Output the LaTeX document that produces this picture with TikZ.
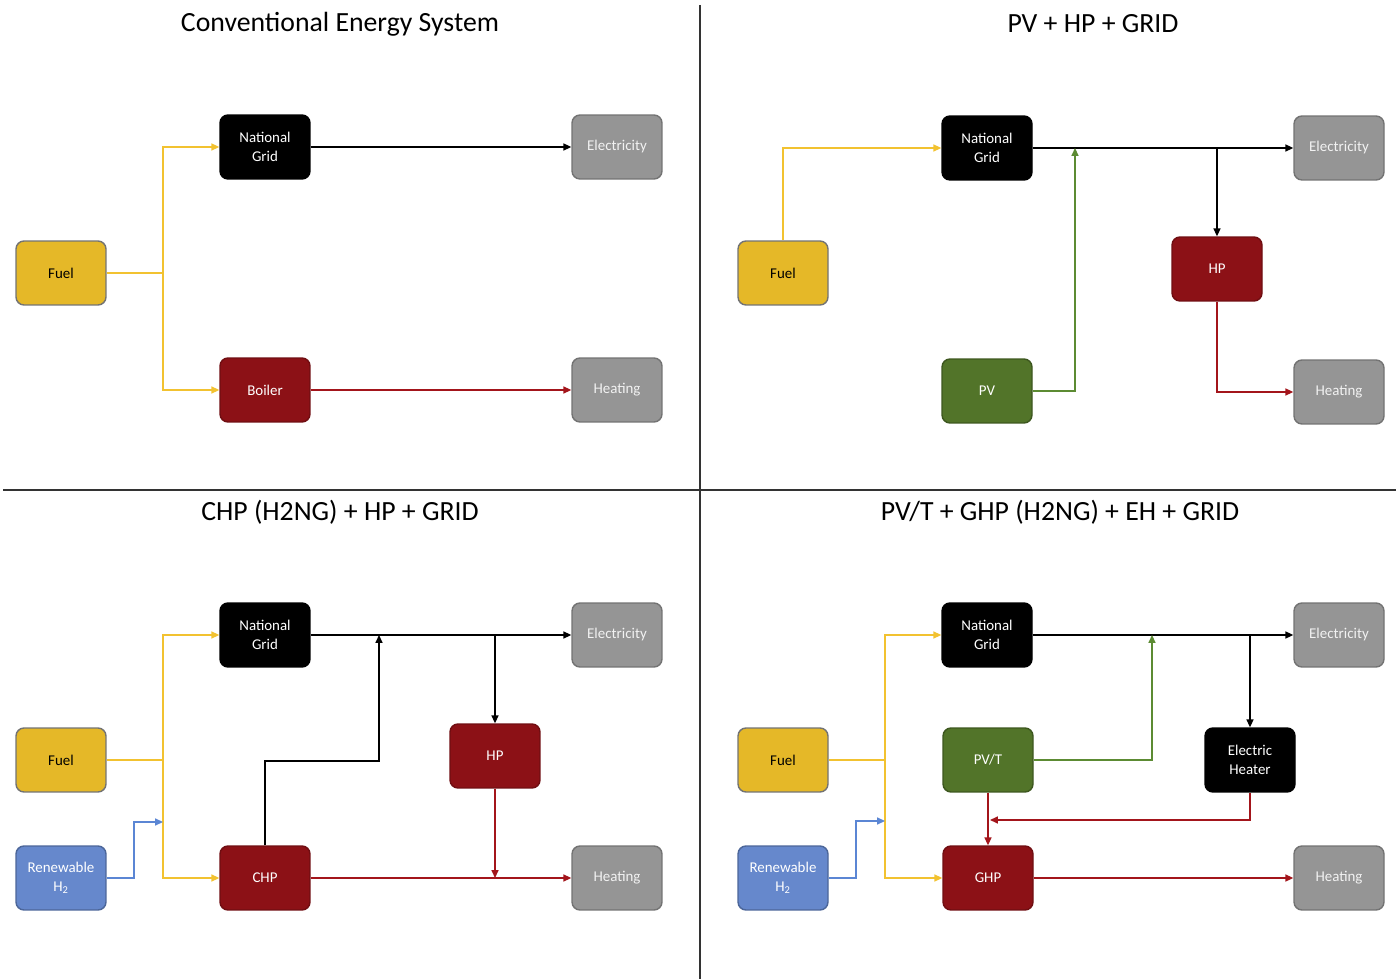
\documentclass[tikz,border=0pt]{standalone}
\usepackage{fontspec}
\setmainfont{Carlito}
\usepackage{xcolor}
\usetikzlibrary{arrows.meta}
\definecolor{fuelgold}{HTML}{E5B828}
\definecolor{fuelline}{HTML}{F2C230}
\definecolor{heatred}{HTML}{8C1116}
\definecolor{heatline}{HTML}{A3151B}
\definecolor{pvgreen}{HTML}{527429}
\definecolor{pvline}{HTML}{5C8B33}
\definecolor{hblue}{HTML}{6688CC}
\definecolor{hline}{HTML}{5B86D4}
\definecolor{outgrey}{HTML}{959595}

\begin{document}
\begin{tikzpicture}[line cap=butt,line join=miter,x=0.02cm,y=-0.02cm,
    unit/.style={rectangle,rounded corners=0.16cm,minimum width=1.8cm,minimum height=1.28cm,
        align=center,line width=0.8pt,font=\fontsize{8.5}{10.5}\selectfont},
    fuelbox/.style={unit,fill=fuelgold,draw=black!55,text=black},
    gridbox/.style={unit,fill=black,draw=black,text=white},
    heatbox/.style={unit,fill=heatred,draw=heatred!80!black,text=white},
    pvbox/.style={unit,fill=pvgreen,draw=pvgreen!75!black,text=white},
    hbox/.style={unit,fill=hblue,draw=hblue!75!black,text=white},
    outbox/.style={unit,fill=outgrey,draw=black!55,text=black!5},
    flow/.style={line width=0.8pt,-{Triangle[length=4.5pt,width=4pt]}},
    plain/.style={line width=0.8pt},
    title/.style={font=\fontsize{15.8}{19}\selectfont},
    divider/.style={line width=1pt,draw=black!80}]
    \useasboundingbox (0,0) rectangle (1400,979);
    % dividers
    \draw [divider] (700,5) -- (700,979);
    \draw [divider] (3,490) -- (1396,490);
    % titles
    \node [title] (t1) at (340,24) {Conventional Energy System};
    \node [title] (t2) at (1093,24) {PV + HP + GRID};
    \node [title] (t3) at (340,512) {CHP (H2NG) + HP + GRID};
    \node [title] (t4) at (1060,512) {PV/T + GHP (H2NG) + EH + GRID};

    % conventional
    \node [fuelbox] (fuel1) at (61,273) {Fuel};
    \node [gridbox] (grid1) at (265,147) {National\\Grid};
    \node [heatbox] (boil1) at (265,390) {Boiler};
    \node [outbox] (elec1) at (617,147) {Electricity};
    \node [outbox] (heat1) at (617,390) {Heating};
    \coordinate (j1) at (163,273);
    \draw [plain,fuelline] (fuel1) -- (j1);
    \draw [flow,fuelline] (j1) |- (grid1);
    \draw [flow,fuelline] (j1) |- (boil1);
    \draw [flow,black] (grid1) -- (elec1);
    \draw [flow,heatline] (boil1) -- (heat1);

    % pv + hp + grid
    \node [fuelbox] (fuel2) at (783,273) {Fuel};
    \node [gridbox] (grid2) at (987,148) {National\\Grid};
    \node [pvbox] (pv2) at (987,391) {PV};
    \node [heatbox] (hp2) at (1217,269) {HP};
    \node [outbox] (elec2) at (1339,148) {Electricity};
    \node [outbox] (heat2) at (1339,392) {Heating};
    \coordinate (pvin2) at (1075,148);
    \coordinate (b2) at (1217,148);
    \draw [flow,fuelline] (fuel2) |- (grid2);
    \draw [flow,black] (grid2) -- (elec2);
    \draw [flow,pvline] (pv2) -| (pvin2);
    \draw [flow,black] (b2) -- (hp2);
    \draw [flow,heatline] (hp2) |- (heat2);

    % chp + hp + grid
    \node [fuelbox] (fuel3) at (61,760) {Fuel};
    \node [hbox] (hyd3) at (61,878) {Renewable\\H\textsubscript{2}};
    \node [gridbox] (grid3) at (265,635) {National\\Grid};
    \node [heatbox] (chp3) at (265,878) {CHP};
    \node [heatbox] (hp3) at (495,756) {HP};
    \node [outbox] (elec3) at (617,635) {Electricity};
    \node [outbox] (heat3) at (617,878) {Heating};
    \coordinate (j3) at (163,760);
    \coordinate (k3) at (134,822);
    \coordinate (h3) at (163,822);
    \coordinate (m3) at (379,761);
    \coordinate (g3) at (379,635);
    \coordinate (b3) at (495,635);
    \coordinate (d3) at (495,878);
    \draw [plain,fuelline] (fuel3) -- (j3);
    \draw [flow,fuelline] (j3) |- (grid3);
    \draw [flow,fuelline] (j3) |- (chp3);
    \draw [flow,hline] (hyd3) -| (k3) -- (h3);
    \draw [flow,black] (grid3) -- (elec3);
    \draw [flow,black] (chp3) |- (m3) -- (g3);
    \draw [flow,black] (b3) -- (hp3);
    \draw [flow,heatline] (hp3) -- (d3);
    \draw [flow,heatline] (chp3) -- (heat3);

    % pv/t + ghp + eh + grid
    \node [fuelbox] (fuel4) at (783,760) {Fuel};
    \node [hbox] (hyd4) at (783,878) {Renewable\\H\textsubscript{2}};
    \node [gridbox] (grid4) at (987,635) {National\\Grid};
    \node [pvbox] (pvt4) at (988,760) {PV/T};
    \node [heatbox] (ghp4) at (988,878) {GHP};
    \node [gridbox] (eh4) at (1250,760) {Electric\\Heater};
    \node [outbox] (elec4) at (1339,635) {Electricity};
    \node [outbox] (heat4) at (1339,878) {Heating};
    \coordinate (j4) at (885,760);
    \coordinate (k4) at (856,821);
    \coordinate (h4) at (885,821);
    \coordinate (pvin4) at (1152,635);
    \coordinate (b4) at (1250,635);
    \coordinate (e4) at (990,820);
    \draw [plain,fuelline] (fuel4) -- (j4);
    \draw [flow,fuelline] (j4) |- (grid4);
    \draw [flow,fuelline] (j4) |- (ghp4);
    \draw [flow,hline] (hyd4) -| (k4) -- (h4);
    \draw [flow,black] (grid4) -- (elec4);
    \draw [flow,pvline] (pvt4) -| (pvin4);
    \draw [flow,black] (b4) -- (eh4);
    \draw [flow,heatline] (eh4) |- (e4);
    \draw [flow,heatline] (pvt4) -- (ghp4);
    \draw [flow,heatline] (ghp4) -- (heat4);
\end{tikzpicture}
\end{document}
